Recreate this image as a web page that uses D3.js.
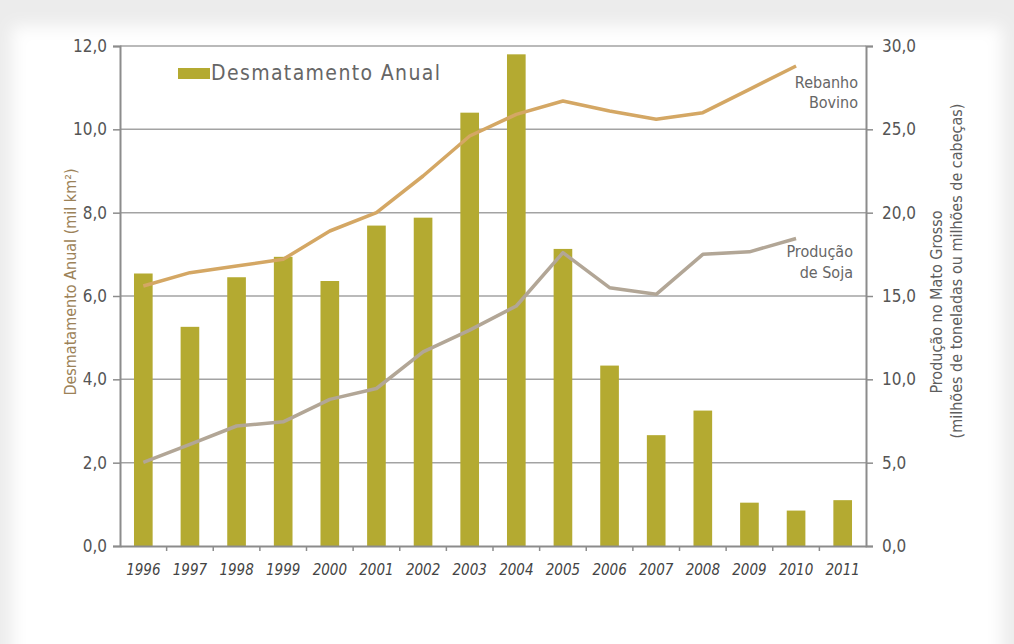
<!DOCTYPE html>
<html>
<head>
<meta charset="utf-8">
<script src="https://cdn.jsdelivr.net/npm/d3@7"></script>
<style>
  html, body { margin: 0; padding: 0; background: #ececec; }
  svg { display: block; }
  text { font-family: "Liberation Sans Narrow", "DejaVu Sans Condensed", sans-serif; }
</style>
</head>
<body>
<svg id="chart" width="1014" height="644"></svg>
<script>
var years = ["1996","1997","1998","1999","2000","2001","2002","2003","2004","2005","2006","2007","2008","2009","2010","2011"];
var desmatamento = [6.54, 5.26, 6.45, 6.94, 6.36, 7.69, 7.88, 10.4, 11.8, 7.13, 4.33, 2.66, 3.25, 1.04, 0.85, 1.10];
var rebanhoYears = years.slice(0, 15);
var rebanho = [15.6, 16.4, 16.8, 17.2, 18.9, 20.0, 22.2, 24.6, 25.9, 26.7, 26.1, 25.6, 26.0, 27.4, 28.8];
var soja = [5.02, 6.1, 7.2, 7.45, 8.8, 9.45, 11.65, 12.95, 14.4, 17.6, 15.5, 15.1, 17.5, 17.65, 18.45];
var leftTicks = [0, 2, 4, 6, 8, 10, 12];
var rightTicks = [0, 5, 10, 15, 20, 25, 30];

var LEFT = 120, RIGHT = 866, TOP = 46, BOTTOM = 546;
var fmt = d => d.toFixed(1).replace(".", ",");

var svg = d3.select("#chart");

// soft white page over a grey border
var defs = svg.append("defs");
defs.append("filter").attr("id", "soft").attr("x", "-5%").attr("y", "-5%").attr("width", "110%").attr("height", "110%")
  .append("feGaussianBlur").attr("stdDeviation", 8);
svg.append("rect").attr("x", 12).attr("y", 26).attr("width", 990).attr("height", 650)
  .attr("fill", "#fff").attr("filter", "url(#soft)");
svg.append("rect").attr("x", 30).attr("y", 42).attr("width", 955).attr("height", 602).attr("fill", "#fff");

var x = d3.scaleBand().domain(years).range([LEFT, RIGHT]).paddingInner(0.6).paddingOuter(0.3);
var yL = d3.scaleLinear().domain([0, 12]).range([BOTTOM, TOP]);
var yR = d3.scaleLinear().domain([0, 30]).range([BOTTOM, TOP]);
var cx = d => x(d) + x.bandwidth() / 2;

// gridlines
svg.append("g").selectAll("line").data(leftTicks.slice(1)).enter().append("line")
  .attr("x1", LEFT).attr("x2", RIGHT).attr("y1", d => yL(d)).attr("y2", d => yL(d))
  .attr("stroke", "#a3a3a3").attr("stroke-width", 1.5);

// bars
svg.append("g").selectAll("rect").data(desmatamento).enter().append("rect")
  .attr("x", (d, i) => x(years[i])).attr("width", x.bandwidth())
  .attr("y", d => yL(d)).attr("height", d => BOTTOM - yL(d))
  .attr("fill", "#b4aa31");

// lines
var line = d3.line().x((d, i) => cx(rebanhoYears[i])).y(d => yR(d));
svg.append("path").datum(rebanho).attr("d", line).attr("fill", "none")
  .attr("stroke", "#d4a764").attr("stroke-width", 3.5).attr("stroke-linejoin", "round");
svg.append("path").datum(soja).attr("d", line).attr("fill", "none")
  .attr("stroke", "#b2a696").attr("stroke-width", 3.5).attr("stroke-linejoin", "round");

// left axis
var gL = svg.append("g").attr("transform", "translate(" + LEFT + ",0)")
  .call(d3.axisLeft(yL).tickValues(leftTicks).tickFormat(fmt).tickSize(7).tickPadding(6));
// right axis
var gR = svg.append("g").attr("transform", "translate(" + RIGHT + ",0)")
  .call(d3.axisRight(yR).tickValues(rightTicks).tickFormat(fmt).tickSize(7).tickPadding(9));
[gL, gR].forEach(g => {
  g.select(".domain").attr("stroke", "#8c8c8c").attr("stroke-width", 2);
  g.selectAll(".tick line").attr("stroke", "#8c8c8c").attr("stroke-width", 1.5);
  g.selectAll(".tick text").attr("fill", "#555").attr("font-size", 17)
    .attr("font-family", "'Liberation Sans Narrow', 'DejaVu Sans Condensed', sans-serif");
});

// bottom axis
var gB = svg.append("g").attr("transform", "translate(0," + BOTTOM + ")")
  .call(d3.axisBottom(x).tickSize(0).tickPadding(18));
gB.select(".domain").attr("stroke", "#8c8c8c").attr("stroke-width", 2);
gB.selectAll(".tick text").attr("fill", "#444").attr("font-size", 15).attr("font-style", "italic")
  .attr("font-family", "'Liberation Sans Narrow', 'DejaVu Sans Condensed', sans-serif");
gB.append("g").selectAll("line").data(d3.range(1, years.length)).enter().append("line")
  .attr("x1", i => LEFT + i * x.step()).attr("x2", i => LEFT + i * x.step())
  .attr("y1", 0).attr("y2", 5).attr("stroke", "#8c8c8c").attr("stroke-width", 1.5);

// axis titles
svg.append("text").attr("transform", "translate(76,282) rotate(-90)")
  .attr("text-anchor", "middle").attr("font-size", 16).attr("fill", "#9c8258")
  .attr("font-family", "'Open Sans', sans-serif")
  .text("Desmatamento Anual (mil km²)");
svg.append("text").attr("transform", "translate(942,302) rotate(-90)")
  .attr("text-anchor", "middle").attr("font-size", 16).attr("fill", "#5e5e5e")
  .attr("font-family", "'Open Sans', sans-serif")
  .text("Produção no Mato Grosso");
svg.append("text").attr("transform", "translate(962,271) rotate(-90)")
  .attr("text-anchor", "middle").attr("font-size", 16).attr("fill", "#5e5e5e")
  .attr("font-family", "'Open Sans', sans-serif")
  .text("(milhões de toneladas ou milhões de cabeças)");

// legend
svg.append("rect").attr("x", 178).attr("y", 68).attr("width", 32).attr("height", 11).attr("fill", "#b4aa31");
svg.append("text").attr("x", 211).attr("y", 80).attr("font-size", 21).attr("fill", "#666")
  .attr("font-family", "'DejaVu Sans', sans-serif").attr("textLength", 229)
  .text("Desmatamento Anual");

// series labels
var seriesLabels = [["Rebanho", 88], ["Bovino", 108], ["Produção", 257], ["de Soja", 278]];
svg.append("g").selectAll("text").data(seriesLabels).enter().append("text")
  .attr("x", (d, i) => i < 2 ? 858 : 853).attr("y", d => d[1])
  .attr("text-anchor", "end").attr("font-size", 16).attr("fill", "#666")
  .attr("font-family", "'DejaVu Sans Condensed', sans-serif")
  .text(d => d[0]);
</script>
</body>
</html>
